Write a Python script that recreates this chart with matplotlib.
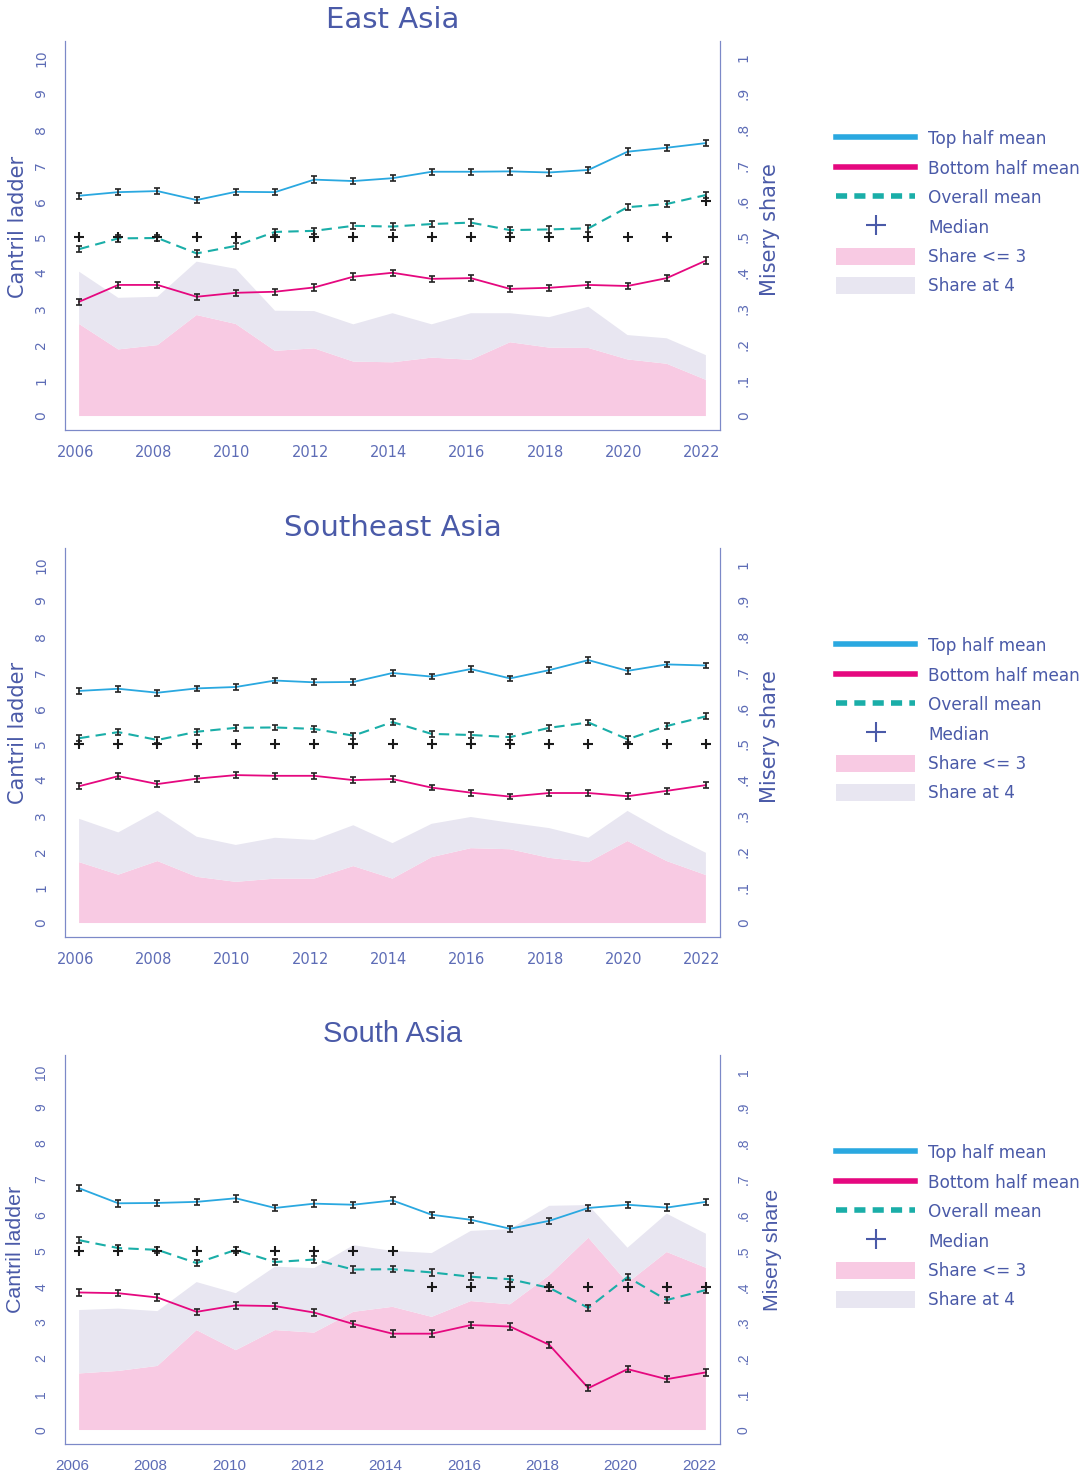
import numpy as np
import matplotlib.pyplot as plt
import matplotlib.transforms as mtransforms
from matplotlib.lines import Line2D
from matplotlib.patches import Patch

plt.rcParams['font.family'] = ['DejaVu Sans']

years = list(range(2006, 2023))

# East Asia
ea_top = [6.15, 6.25, 6.28, 6.03, 6.26, 6.25, 6.60, 6.56, 6.64, 6.82, 6.82, 6.83, 6.80, 6.87, 7.38, 7.49, 7.62]
ea_bottom = [3.19, 3.66, 3.66, 3.33, 3.44, 3.47, 3.59, 3.89, 4.00, 3.83, 3.85, 3.55, 3.58, 3.66, 3.63, 3.85, 4.34]
ea_overall = [4.66, 4.96, 4.97, 4.54, 4.75, 5.14, 5.17, 5.31, 5.29, 5.36, 5.40, 5.19, 5.21, 5.24, 5.83, 5.92, 6.17]
ea_median = [5, 5, 5, 5, 5, 5, 5, 5, 5, 5, 5, 5, 5, 5, 5, 5, 6]
ea_le3 = [.257, .186, .198, .282, .257, .182, .189, .152, .150, .163, .157, .206, .191, .190, .158, .146, .101]
ea_at4 = [.146, .144, .135, .149, .154, .112, .104, .104, .137, .093, .130, .081, .085, .115, .068, .071, .069]

# Southeast Asia
sea_top = [6.48, 6.54, 6.43, 6.55, 6.59, 6.77, 6.72, 6.73, 6.98, 6.88, 7.09, 6.83, 7.06, 7.34, 7.04, 7.22, 7.19]
sea_bottom = [3.82, 4.10, 3.88, 4.03, 4.13, 4.11, 4.11, 3.99, 4.02, 3.78, 3.64, 3.53, 3.63, 3.63, 3.54, 3.69, 3.85]
sea_overall = [5.16, 5.33, 5.11, 5.34, 5.45, 5.46, 5.42, 5.23, 5.61, 5.28, 5.25, 5.19, 5.45, 5.60, 5.13, 5.50, 5.77]
sea_median = [5] * 17
sea_le3 = [.170, .135, .173, .129, .115, .124, .124, .159, .124, .184, .209, .206, .182, .170, .229, .173, .134]
sea_at4 = [.121, .118, .140, .112, .103, .114, .108, .114, .099, .093, .087, .074, .083, .068, .084, .078, .062]

# South Asia
sa_top = [6.75, 6.33, 6.34, 6.37, 6.47, 6.20, 6.32, 6.29, 6.41, 6.01, 5.87, 5.62, 5.84, 6.20, 6.29, 6.21, 6.37]
sa_bottom = [3.84, 3.82, 3.70, 3.30, 3.48, 3.46, 3.28, 2.96, 2.69, 2.69, 2.93, 2.89, 2.38, 1.17, 1.70, 1.42, 1.61]
sa_overall = [5.30, 5.08, 5.03, 4.66, 5.03, 4.69, 4.76, 4.48, 4.49, 4.40, 4.28, 4.21, 3.97, 3.41, 4.27, 3.63, 3.91]
sa_median = [5, 5, 5, 5, 5, 5, 5, 5, 5, 4, 4, 4, 4, 4, 4, 4, 4]
sa_le3 = [.158, .165, .179, .279, .223, .279, .272, .330, .344, .316, .360, .351, .432, .537, .411, .497, .453]
sa_at4 = [.177, .174, .153, .134, .159, .177, .180, .186, .156, .178, .196, .210, .194, .091, .098, .107, .095]

# half width of the confidence bars
ci_half = [0.09, 0.08, 0.09]

blue = '#2aa8e0'
magenta = '#e5087f'
teal = '#1aaea8'
pink = '#f8cae3'
lavender = '#e8e6f1'
txt = '#4a5aa8'
tick_col = '#5d6cb6'
spine_col = '#7c89c8'

W, H = 1088, 1477
fig = plt.figure(figsize=(W / 100, H / 100), dpi=100)


def draw_panel(top_px, title, top, bottom, overall, median, le3, at4, ci,
               fam='DejaVu Sans', title_fs=21, lab_fs=15, xshift=-4, xtick_fs=10.5,
               lab_x=(18, 770), lab_y=(0.522, 0.514)):
    bottom_px = top_px + 389
    ax = fig.add_axes([65 / W, 1 - bottom_px / H, 655 / W, 389 / H])
    ax2 = ax.twinx()
    ylo, yhi = -0.39, 10.47
    ax.set_xlim(2005.64, 2022.36)
    ax.set_ylim(ylo, yhi)
    ax2.set_ylim(ylo / 10, yhi / 10)

    ax2.stackplot(years, le3, at4, colors=[pink, lavender], linewidth=0)
    ax.set_zorder(ax2.get_zorder() + 1)
    ax.patch.set_visible(False)

    ax.plot(years, top, color=blue, lw=1.3)
    ax.plot(years, bottom, color=magenta, lw=1.3)
    ax.plot(years, overall, color=teal, lw=1.5, dashes=(5, 3))
    for s in (top, bottom, overall):
        ax.errorbar(years, s, yerr=ci, fmt='none', ecolor='#222222', elinewidth=1.2,
                    capsize=2.2, capthick=1.2)
    ax.plot(years, median, ls='none', marker='+', ms=6.5, mew=1.5, color='#1a1a1a')

    ax.set_xticks(range(2006, 2023, 2))
    ax.set_yticks(range(0, 11))
    ax2.set_yticks(np.arange(0, 1.01, 0.1))
    ax2.set_yticklabels(['0', '.1', '.2', '.3', '.4', '.5', '.6', '.7', '.8', '.9', '1'])
    for a in (ax, ax2):
        a.tick_params(length=0, labelcolor=tick_col, labelsize=10)
        for side in a.spines:
            a.spines[side].set_color(spine_col)
        a.spines['top'].set_visible(False)
    ax.tick_params(axis='x', pad=10.5, labelsize=xtick_fs)
    ax.tick_params(axis='y', pad=12, labelrotation=90)
    ax2.tick_params(axis='y', pad=12, labelrotation=90)
    shift = mtransforms.ScaledTranslation(xshift / 100, 0, fig.dpi_scale_trans)
    for lab in ax.get_xticklabels():
        lab.set_transform(lab.get_transform() + shift)
        lab.set_family(fam)
    for lab in ax.get_yticklabels() + ax2.get_yticklabels():
        lab.set_verticalalignment('center')
        lab.set_family(fam)

    ax.set_ylabel('Cantril ladder', color=txt, fontsize=lab_fs, family=fam, va='center')
    ax2.set_ylabel('Misery share', color=txt, fontsize=lab_fs, family=fam, va='center')
    ax.yaxis.set_label_coords((lab_x[0] - 65) / 655, lab_y[0])
    ax2.yaxis.set_label_coords((lab_x[1] - 65) / 655, lab_y[1])
    ax.set_title(title, color=txt, fontsize=title_fs, pad=9, family=fam)

    handles = [
        Line2D([], [], color=blue, lw=4),
        Line2D([], [], color=magenta, lw=4),
        Line2D([], [], color=teal, lw=4, dashes=(2, 1.3)),
        Line2D([], [], ls='none', marker='+', ms=14, mew=1.5, color=txt),
        Patch(facecolor=pink, edgecolor='none'),
        Patch(facecolor=lavender, edgecolor='none'),
    ]
    labels = ['Top half mean', 'Bottom half mean', 'Overall mean', 'Median',
              'Share <= 3', 'Share at 4']
    leg = fig.legend(handles, labels, loc='upper left',
                     bbox_to_anchor=(836 / W, 1 - (top_px + 89) / H),
                     frameon=False, fontsize=12.2, handlelength=4.67, handleheight=1.2,
                     handletextpad=0.77, labelspacing=0.65, borderpad=0, borderaxespad=0)
    for t in leg.get_texts():
        t.set_color(txt)


draw_panel(41, 'East Asia', ea_top, ea_bottom, ea_overall, ea_median, ea_le3, ea_at4, ci_half[0],
           lab_y=(0.522, 0.514))
draw_panel(548, 'Southeast Asia', sea_top, sea_bottom, sea_overall, sea_median, sea_le3, sea_at4,
           ci_half[1], lab_y=(0.524, 0.516))
draw_panel(1055, 'South Asia', sa_top, sa_bottom, sa_overall, sa_median, sa_le3, sa_at4, ci_half[2],
           fam='Liberation Sans', title_fs=21, lab_fs=15.4, xshift=-7, xtick_fs=11,
           lab_x=(16, 772), lab_y=(0.50, 0.50))

fig.savefig('out.png', dpi=100)
